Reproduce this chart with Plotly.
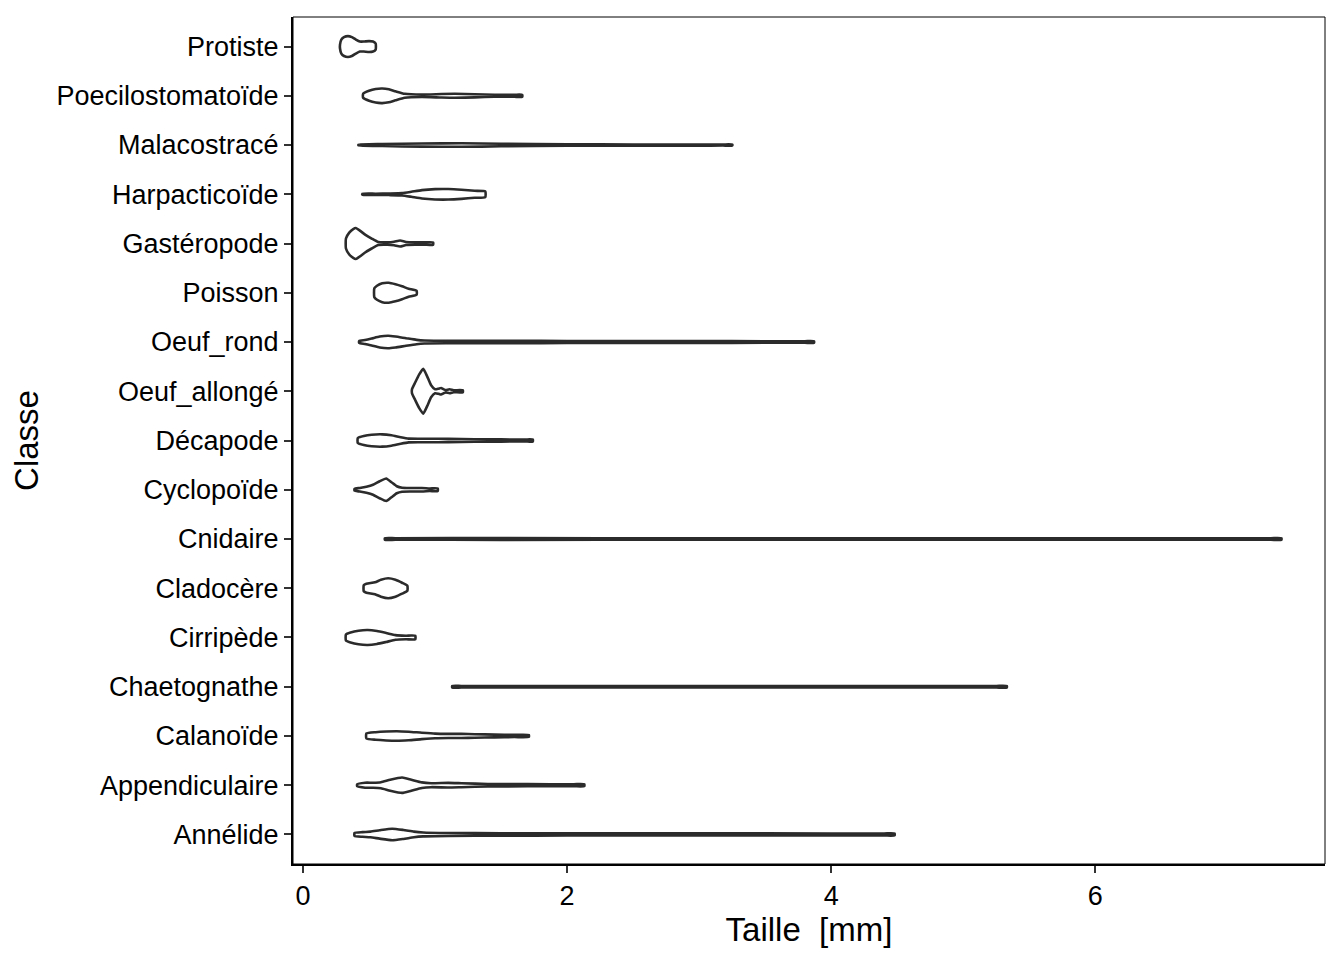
# Violin plot of plankton sizes per class, ggplot-style, rebuilt in Plotly.
import plotly.graph_objects as go

# Classes from bottom (y=0) to top (y=16)
classes = ["Annélide", "Appendiculaire", "Calanoïde", "Chaetognathe", "Cirripède",
           "Cladocère", "Cnidaire", "Cyclopoïde", "Décapode", "Oeuf_allongé",
           "Oeuf_rond", "Poisson", "Gastéropode", "Harpacticoïde", "Malacostracé",
           "Poecilostomatoïde", "Protiste"]

# Size (mm) along each violin and the density half-width (in category units)
annelide_x = [0.39, 0.45, 0.51, 0.58, 0.675, 0.76, 0.84, 0.91, 1.1, 1.5, 2.0, 3.0, 4.0, 4.4, 4.48]
annelide_w = [0.030, 0.047, 0.057, 0.085, 0.117, 0.091, 0.057, 0.040, 0.030, 0.024, 0.022, 0.022, 0.020, 0.020, 0.020]

appendiculaire_x = [0.41, 0.47, 0.53, 0.59, 0.66, 0.75, 0.82, 0.90, 0.97, 1.1, 1.2, 1.4, 1.7, 2.05, 2.13]
appendiculaire_w = [0.020, 0.051, 0.051, 0.061, 0.111, 0.156, 0.111, 0.057, 0.040, 0.047, 0.040, 0.026, 0.022, 0.020, 0.020]

calanoide_x = [0.48, 0.55, 0.63, 0.71, 0.80, 0.90, 1.0, 1.1, 1.2, 1.3, 1.45, 1.6, 1.71]
calanoide_w = [0.051, 0.077, 0.091, 0.097, 0.087, 0.065, 0.047, 0.042, 0.042, 0.036, 0.028, 0.022, 0.020]

chaetognathe_x = [1.13, 1.2, 2.0, 3.0, 4.0, 5.0, 5.25, 5.33]
chaetognathe_w = [0.016, 0.016, 0.016, 0.016, 0.016, 0.016, 0.016, 0.016]

cirripede_x = [0.325, 0.36, 0.42, 0.49, 0.56, 0.63, 0.70, 0.78, 0.85]
cirripede_w = [0.061, 0.101, 0.138, 0.152, 0.131, 0.091, 0.047, 0.036, 0.036]

cladocere_x = [0.46, 0.48, 0.545, 0.59, 0.645, 0.70, 0.75, 0.79]
cladocere_w = [0.061, 0.091, 0.121, 0.172, 0.202, 0.172, 0.111, 0.051]

cnidaire_x = [0.62, 0.7, 1.5, 3.0, 4.5, 6.0, 7.0, 7.33, 7.41]
cnidaire_w = [0.016, 0.016, 0.017, 0.016, 0.016, 0.016, 0.016, 0.016, 0.016]

cyclopoide_x = [0.39, 0.43, 0.48, 0.53, 0.58, 0.63, 0.67, 0.71, 0.75, 0.82, 0.90, 0.96, 1.02]
cyclopoide_w = [0.020, 0.036, 0.061, 0.101, 0.172, 0.229, 0.152, 0.071, 0.040, 0.036, 0.036, 0.026, 0.026]

decapode_x = [0.415, 0.46, 0.52, 0.60, 0.67, 0.74, 0.80, 0.95, 1.1, 1.3, 1.5, 1.68, 1.74]
decapode_w = [0.051, 0.091, 0.117, 0.125, 0.105, 0.065, 0.038, 0.036, 0.034, 0.026, 0.022, 0.020, 0.020]

oeuf_allonge_x = [0.825, 0.85, 0.88, 0.91, 0.94, 0.97, 1.00, 1.025, 1.045, 1.065, 1.08, 1.11, 1.14, 1.21]
oeuf_allonge_w = [0.040, 0.182, 0.344, 0.455, 0.303, 0.121, 0.040, 0.051, 0.067, 0.040, 0.024, 0.040, 0.020, 0.020]

oeuf_rond_x = [0.425, 0.47, 0.52, 0.58, 0.645, 0.70, 0.78, 0.86, 0.92, 1.1, 1.3, 1.6, 2.0, 2.6, 3.0, 3.5, 3.8, 3.87]
oeuf_rond_w = [0.020, 0.040, 0.071, 0.111, 0.127, 0.111, 0.077, 0.044, 0.030, 0.026, 0.026, 0.026, 0.020, 0.020, 0.020, 0.016, 0.016, 0.016]

poisson_x = [0.54, 0.56, 0.60, 0.65, 0.70, 0.75, 0.80, 0.86]
poisson_w = [0.091, 0.142, 0.192, 0.202, 0.172, 0.131, 0.081, 0.040]

gasteropode_x = [0.325, 0.35, 0.38, 0.40, 0.43, 0.47, 0.52, 0.57, 0.64, 0.69, 0.735, 0.78, 0.85, 0.92, 0.985]
gasteropode_w = [0.101, 0.222, 0.293, 0.314, 0.263, 0.182, 0.101, 0.030, 0.024, 0.036, 0.061, 0.030, 0.024, 0.024, 0.024]

harpacticoide_x = [0.45, 0.55, 0.65, 0.75, 0.82, 0.90, 1.00, 1.10, 1.20, 1.30, 1.38]
harpacticoide_w = [0.010, 0.012, 0.016, 0.024, 0.051, 0.085, 0.105, 0.107, 0.093, 0.071, 0.057]

malacostrace_x = [0.42, 0.6, 0.9, 1.2, 1.5, 2.0, 2.5, 3.0, 3.18, 3.25]
malacostrace_w = [0.006, 0.020, 0.032, 0.036, 0.026, 0.016, 0.012, 0.012, 0.010, 0.010]

poecilo_x = [0.455, 0.50, 0.55, 0.60, 0.65, 0.70, 0.77, 0.90, 1.05, 1.15, 1.30, 1.45, 1.60, 1.66]
poecilo_w = [0.040, 0.101, 0.138, 0.148, 0.131, 0.091, 0.040, 0.024, 0.036, 0.040, 0.032, 0.020, 0.020, 0.020]

protiste_x = [0.28, 0.29, 0.31, 0.34, 0.37, 0.40, 0.43, 0.46, 0.50, 0.53, 0.55]
protiste_w = [0.040, 0.142, 0.192, 0.212, 0.192, 0.142, 0.101, 0.101, 0.111, 0.101, 0.061]

profiles = [
    (annelide_x, annelide_w), (appendiculaire_x, appendiculaire_w), (calanoide_x, calanoide_w),
    (chaetognathe_x, chaetognathe_w), (cirripede_x, cirripede_w), (cladocere_x, cladocere_w),
    (cnidaire_x, cnidaire_w), (cyclopoide_x, cyclopoide_w), (decapode_x, decapode_w),
    (oeuf_allonge_x, oeuf_allonge_w), (oeuf_rond_x, oeuf_rond_w), (poisson_x, poisson_w),
    (gasteropode_x, gasteropode_w), (harpacticoide_x, harpacticoide_w),
    (malacostrace_x, malacostrace_w), (poecilo_x, poecilo_w), (protiste_x, protiste_w),
]

x_ticks = [0, 2, 4, 6]

FONT = "Liberation Sans, Arial, Helvetica, sans-serif"

fig = go.Figure()

for i, (name, (xs, ws)) in enumerate(zip(classes, profiles)):
    # outline: upper edge left->right, then lower edge right->left
    ox = list(xs) + list(xs[::-1]) + [xs[0]]
    oy = [i + w for w in ws] + [i - w for w in ws[::-1]] + [i + ws[0]]
    fig.add_trace(go.Scatter(
        x=ox, y=oy,
        mode="lines",
        fill="toself",
        fillcolor="white",
        line=dict(color="#2b2b2b", width=2.6, shape="spline", smoothing=0.5),
        name=name,
        showlegend=False,
        hoverinfo="name",
    ))

# the page adds an 8px body margin, so margins are shifted to keep the panel in place
fig.update_layout(
    width=1344,
    height=960,
    margin=dict(l=285, r=27, t=9, b=104, autoexpand=False),
    paper_bgcolor="white",
    plot_bgcolor="white",
    font=dict(family=FONT, color="black"),
    xaxis=dict(
        range=[-0.076, 7.74],
        tickvals=x_ticks,
        ticks="outside", ticklen=7, tickwidth=2, tickcolor="#333333",
        showline=True, linewidth=2, linecolor="black",
        showgrid=False, zeroline=False,
        tickfont=dict(size=27, family=FONT, color="black"),
        title=dict(text="Taille\u00a0 [mm]", font=dict(size=33, family=FONT, color="black"), standoff=6),
        automargin=False,
    ),
    yaxis=dict(
        range=[-0.6, 16.6],
        tickvals=list(range(len(classes))),
        ticktext=classes,
        ticks="outside", ticklen=7, tickwidth=2, tickcolor="#333333",
        showline=True, linewidth=2, linecolor="black",
        showgrid=False, zeroline=False,
        tickfont=dict(size=27, family=FONT, color="black"),
        title=dict(text="Classe", font=dict(size=33, family=FONT, color="black"), standoff=8),
        automargin=False,
    ),
    shapes=[dict(type="rect", xref="paper", yref="paper", x0=0, y0=0, x1=1, y1=1,
                 line=dict(color="black", width=1), layer="above")],
)

fig.write_html("out.html")
